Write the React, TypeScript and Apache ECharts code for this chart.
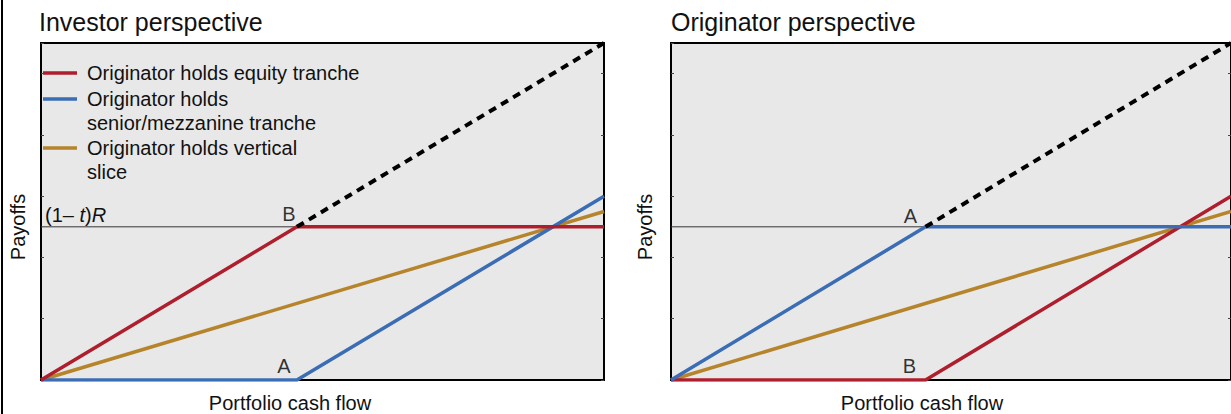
import React, { useEffect, useRef } from "react";
import * as echarts from "echarts";

// ---- data (axis units: portfolio cash flow / payoffs) ----
const X_MAX = 5.5;
const Y_MAX = 5.5;
const Y_TICK = 1;
const RETAINED_LEVEL = 2.5; // (1 - t)R

const panelTitles = ["Investor perspective", "Originator perspective"];
const xAxisName = "Portfolio cash flow";
const yAxisName = "Payoffs";

const legendNames = [
  "Originator holds equity tranche",
  "Originator holds\nsenior/mezzanine tranche",
  "Originator holds vertical\nslice",
];

// Investor perspective
const investorWhenEquityHeld = [[0, 0], [2.5, 2.5], [5.5, 2.5]];
const investorWhenSeniorHeld = [[0, 0], [2.5, 0], [5.5, 3.0]];
const investorWhenVerticalHeld = [[0, 0], [5.5, 2.75]];
const investorTotal = [[2.5, 2.5], [5.5, 5.5]];
const investorPoints = [
  { x: 2.5, y: 2.5, name: "B", dx: -8, dy: -13 },
  { x: 2.5, y: 0, name: "A", dx: -13, dy: -14 },
];

// Originator perspective
const originatorWhenEquityHeld = [[0, 0], [2.5, 0], [5.5, 3.0]];
const originatorWhenSeniorHeld = [[0, 0], [2.5, 2.5], [5.5, 2.5]];
const originatorWhenVerticalHeld = [[0, 0], [5.5, 2.75]];
const originatorTotal = [[2.5, 2.5], [5.5, 5.5]];
const originatorPoints = [
  { x: 2.5, y: 2.5, name: "A", dx: -15, dy: -11 },
  { x: 2.5, y: 0, name: "B", dx: -16, dy: -14 },
];

const RED = "#AF1E2D";
const BLUE = "#3B6DB5";
const GOLD = "#B6842B";
const FONT = '"Liberation Sans", Arial, sans-serif';

export default function App() {
  const ref = useRef<HTMLDivElement>(null);

  useEffect(() => {
    if (!ref.current) return;
    const chart = echarts.init(ref.current, undefined, { renderer: "svg" });

    const grids = [
      { left: 41, top: 43, width: 563, height: 337 },
      { left: 671, top: 43, width: 563, height: 337 },
    ];

    const xAxes = grids.map((_, i) => ({
      gridIndex: i,
      type: "value",
      min: 0,
      max: X_MAX,
      axisLine: { show: false },
      axisTick: { show: false },
      axisLabel: { show: false },
      splitLine: { show: false },
    }));

    const yAxes: any[] = [];
    grids.forEach((_, i) => {
      ["left", "right"].forEach((pos) => {
        yAxes.push({
          gridIndex: i,
          type: "value",
          position: pos,
          min: 0,
          max: Y_MAX,
          interval: Y_TICK,
          axisLine: { show: false },
          axisTick: { show: true, inside: true, length: 3, lineStyle: { color: "#444", width: 1 } },
          axisLabel: { show: false },
          splitLine: { show: false },
        });
      });
    });

    const lineSeries = (data: number[][], color: string, gi: number, z: number, extra: any = {}) => ({
      type: "line",
      data,
      xAxisIndex: gi,
      yAxisIndex: gi * 2,
      showSymbol: false,
      symbol: "none",
      silent: true,
      z,
      lineStyle: { color, width: 3.5, cap: "butt", join: "miter" },
      emphasis: { disabled: true },
      ...extra,
    });

    const refLine = (gi: number) =>
      lineSeries([[0, RETAINED_LEVEL], [X_MAX, RETAINED_LEVEL]], "#333", gi, 1, {
        lineStyle: { color: "#333", width: 1 },
      });

    const dashed = (data: number[][], gi: number) =>
      lineSeries(data, "#000", gi, 5, {
        lineStyle: { color: "#000", width: 4, type: [8, 6], cap: "butt" },
      });

    const annotations = (pts: any[], gi: number) => ({
      type: "scatter",
      xAxisIndex: gi,
      yAxisIndex: gi * 2,
      symbolSize: 0,
      silent: true,
      z: 6,
      data: pts.map((p) => ({
        value: [p.x, p.y],
        name: p.name,
        label: {
          show: true,
          formatter: "{b}",
          position: "inside",
          offset: [p.dx, p.dy],
          color: "#000",
          fontSize: 20,
          fontFamily: FONT,
        },
      })),
    });

    const series = [
      refLine(0),
      lineSeries(investorWhenVerticalHeld, GOLD, 0, 2),
      lineSeries(investorWhenSeniorHeld, BLUE, 0, 3),
      lineSeries(investorWhenEquityHeld, RED, 0, 4),
      dashed(investorTotal, 0),
      annotations(investorPoints, 0),
      refLine(1),
      lineSeries(originatorWhenVerticalHeld, GOLD, 1, 2),
      lineSeries(originatorWhenEquityHeld, RED, 1, 3),
      lineSeries(originatorWhenSeniorHeld, BLUE, 1, 4),
      dashed(originatorTotal, 1),
      annotations(originatorPoints, 1),
    ];

    const legendColors = [RED, BLUE, GOLD];
    const legendY = [73, 99, 148];
    const legendGraphics: any[] = [];
    legendNames.forEach((name, i) => {
      legendGraphics.push({
        type: "line",
        shape: { x1: 43, y1: legendY[i], x2: 77, y2: legendY[i] },
        style: { stroke: legendColors[i], lineWidth: 3.5 },
        z: 10,
      });
      legendGraphics.push({
        type: "text",
        x: 87,
        y: legendY[i] - 12,
        z: 10,
        style: {
          text: name,
          fill: "#111",
          fontSize: 20,
          fontFamily: FONT,
          lineHeight: 24,
          align: "left",
          verticalAlign: "top",
        },
      });
    });

    const textStyle = (text: string, size: number, align: string, vAlign: string) => ({
      text,
      fill: "#111",
      fontSize: size,
      fontFamily: FONT,
      align,
      verticalAlign: vAlign,
    });

    const graphics: any[] = [
      { type: "rect", shape: { x: 1, y: 0, width: 2, height: 414 }, style: { fill: "#000" } },
      { type: "text", x: 39, y: 22, style: textStyle(panelTitles[0], 25, "left", "middle") },
      { type: "text", x: 671, y: 22, style: textStyle(panelTitles[1], 25, "left", "middle") },
      { type: "text", x: 290, y: 403, style: textStyle(xAxisName, 20, "center", "middle") },
      { type: "text", x: 922, y: 403, style: textStyle(xAxisName, 20, "center", "middle") },
      { type: "text", x: 18, y: 227, rotation: Math.PI / 2, style: textStyle(yAxisName, 20, "center", "middle") },
      { type: "text", x: 645, y: 227, rotation: Math.PI / 2, style: textStyle(yAxisName, 20, "center", "middle") },
      {
        type: "text",
        x: 45,
        y: 215,
        z: 10,
        style: {
          text: "{n|(1– }{i|t}{n|)}{i|R}",
          align: "left",
          verticalAlign: "middle",
          rich: {
            n: { fontSize: 20, fontFamily: FONT, fill: "#111" },
            i: { fontSize: 20, fontFamily: FONT, fontStyle: "italic", fill: "#111" },
          },
        },
      },
      ...legendGraphics,
    ];

    chart.setOption({
      animation: false,
      grid: grids.map((g) => ({
        ...g,
        show: true,
        backgroundColor: "#E8E8E8",
        borderColor: "#000",
        borderWidth: 2,
      })),
      xAxis: xAxes,
      yAxis: yAxes,
      series,
      graphic: graphics,
    });

    return () => chart.dispose();
  }, []);

  return (
    <div
      ref={ref}
      style={{ position: "fixed", left: 0, top: 0, width: 1231, height: 414, background: "#fff" }}
    />
  );
}
